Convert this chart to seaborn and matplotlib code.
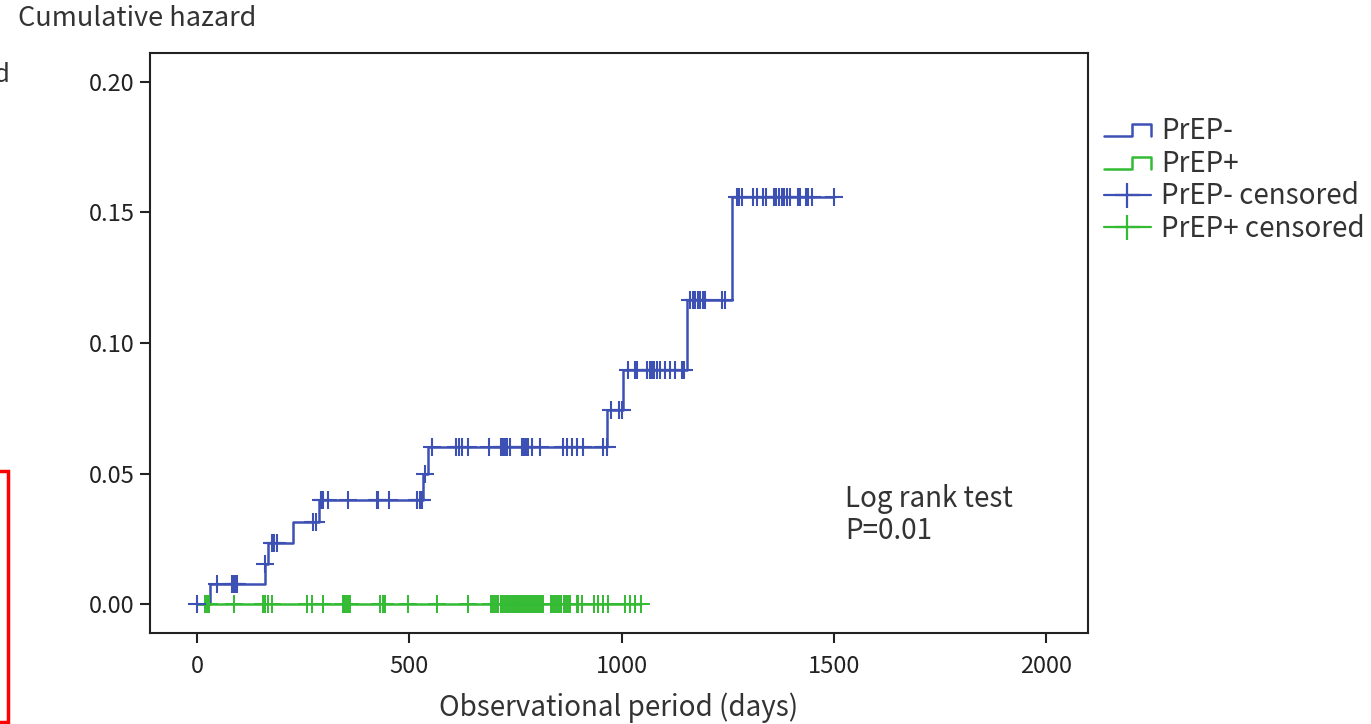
import numpy as np
import pandas as pd
import matplotlib
matplotlib.use('Agg')
import matplotlib.pyplot as plt
import seaborn as sns
from matplotlib.lines import Line2D
from matplotlib.legend_handler import HandlerBase
from matplotlib.patches import Rectangle

# step function of PrEP- group (event day, cumulative hazard after it)
prep_neg_days = [0, 30, 160, 168, 225, 287, 533, 545, 966, 1003, 1154, 1260, 1500]
prep_neg_haz = [0.0, 0.0077, 0.0155, 0.0233, 0.0316, 0.040, 0.050, 0.060, 0.0743, 0.0897, 0.1165, 0.156, 0.156]

# censored days, PrEP-
prep_neg_cens = [0, 48, 82, 86, 90, 94, 160, 176, 181, 188, 273, 279,
                 292, 297, 309, 356, 423, 427, 453, 518, 524, 529, 537,
                 553, 611, 617, 623, 639, 688, 717, 721, 726, 731, 737, 765, 770,
                 775, 780, 788, 808, 861, 871, 883, 894, 908, 956, 965,
                 975, 995, 1000,
                 1016, 1032, 1037, 1061, 1066, 1071, 1077, 1083, 1091, 1103, 1114,
                 1126, 1142, 1147,
                 1161, 1168, 1173, 1179, 1185, 1191, 1197, 1236, 1244,
                 1271, 1277, 1283, 1310, 1318, 1334, 1340, 1358, 1365, 1371, 1377,
                 1383, 1389, 1397, 1416, 1420, 1434, 1440, 1448, 1500]

# PrEP+ group: no events, line at 0
prep_pos_days = [0, 1045]
prep_pos_haz = [0.0, 0.0]
prep_pos_cens = [0, 19, 24, 29, 86, 155, 160, 166, 176, 258, 270, 296,
                 343, 346, 349, 353, 356, 360, 431, 437, 443, 498, 565, 639,
                 692, 697, 702, 706, 710, 715, 719, 723, 728, 732, 737,
                 741, 746, 750, 754, 759, 763, 768, 772, 777, 781, 786,
                 791, 796, 801, 806, 811, 816,
                 833, 838, 843, 848, 853, 858, 864, 869, 874, 879,
                 894, 897, 906, 934, 945, 956, 969, 1008, 1020, 1032, 1045]

blue = '#3d50b4'
green = '#33bb33'
txt = '#333333'

sns.set_style('white')
plt.rcParams['font.family'] = ['Noto Sans CJK JP', 'DejaVu Sans']

fig = plt.figure(figsize=(13.71, 7.24), dpi=100)
ax = fig.add_axes([0.1094, 0.1257, 0.6842, 0.8011])

neg = pd.DataFrame({'day': prep_neg_days, 'haz': prep_neg_haz})
pos = pd.DataFrame({'day': prep_pos_days, 'haz': prep_pos_haz})
sns.lineplot(data=neg, x='day', y='haz', drawstyle='steps-post', color=blue,
             lw=1.8, ax=ax, estimator=None)
sns.lineplot(data=pos, x='day', y='haz', drawstyle='steps-post', color=green,
             lw=1.8, ax=ax, estimator=None)

# y value of each censored mark from the step function
idx = np.searchsorted(prep_neg_days, prep_neg_cens, side='right') - 1
neg_c = pd.DataFrame({'day': prep_neg_cens, 'haz': np.array(prep_neg_haz)[idx]})
pos_c = pd.DataFrame({'day': prep_pos_cens, 'haz': np.zeros(len(prep_pos_cens))})
sns.scatterplot(data=pos_c, x='day', y='haz', marker='+', s=180, color=green,
                linewidth=1.4, ax=ax, zorder=3)
sns.scatterplot(data=neg_c, x='day', y='haz', marker='+', s=180, color=blue,
                linewidth=1.5, ax=ax, zorder=4)

ax.set_xlim(-111, 2099)
ax.set_ylim(-0.0111, 0.2111)
ax.set_xticks([0, 500, 1000, 1500, 2000])
ax.set_yticks([0.0, 0.05, 0.10, 0.15, 0.20])
ax.set_yticklabels(['0.00', '0.05', '0.10', '0.15', '0.20'])
ax.tick_params(axis='both', direction='out', length=7, width=1.5, labelsize=17,
               colors='#222222', left=True, bottom=True, pad=4)
ax.tick_params(axis='x', pad=9)
for sp in ax.spines.values():
    sp.set_color('#222222')
    sp.set_linewidth(1.5)
ax.set_xlabel('Observational period (days)', fontsize=20, color=txt, labelpad=10)
ax.set_ylabel('')
fig.text(0.013, 0.975, 'Cumulative hazard', fontsize=19.5, color=txt, va='center')
fig.text(-0.005, 0.896, 'd', fontsize=18.5, color=txt, va='center')

ax.text(1527, 0.034, 'Log rank test\nP=0.01', fontsize=20, color=txt,
        va='center', linespacing=1.1)


class StepHandler(HandlerBase):
    def create_artists(self, legend, orig_handle, xdescent, ydescent,
                       width, height, fontsize, trans):
        x0, x1 = -xdescent, -xdescent + width
        xm = x0 + width * 0.6
        yl, yh = -ydescent + height * 0.15, -ydescent + height * 0.75
        ln = Line2D([x0, xm, xm, x1, x1], [yl, yl, yh, yh, yl],
                    color=orig_handle.get_color(), lw=1.8, transform=trans)
        return [ln]


h1 = Line2D([], [], color=blue)
h2 = Line2D([], [], color=green)
h3 = Line2D([], [], color=blue, marker='+', markersize=18, mew=1.6, lw=1.6)
h4 = Line2D([], [], color=green, marker='+', markersize=18, mew=1.6, lw=1.6)
ax.legend([h1, h2, h3, h4], ['PrEP-', 'PrEP+', 'PrEP- censored', 'PrEP+ censored'],
          handler_map={h1: StepHandler(), h2: StepHandler()},
          loc='upper left', bbox_to_anchor=(1.005, 0.911), frameon=False,
          fontsize=20, handlelength=1.7, handletextpad=0.35, labelspacing=0.1,
          borderaxespad=0, labelcolor=txt)

fig.patches.append(Rectangle((-0.01, 0.003), 0.016, 0.347, transform=fig.transFigure,
                             fill=False, edgecolor='red', lw=2.5))

fig.savefig('out.png', dpi=100)
